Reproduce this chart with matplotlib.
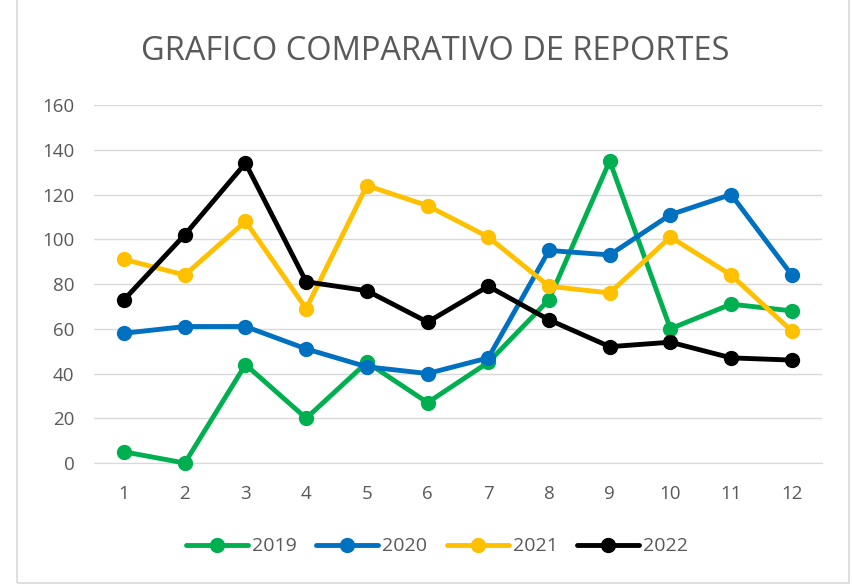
import matplotlib
matplotlib.use("Agg")
import matplotlib.pyplot as plt
from matplotlib.patches import Rectangle

meses = [1, 2, 3, 4, 5, 6, 7, 8, 9, 10, 11, 12]
r2019 = [5, 0, 44, 20, 45, 27, 45, 73, 135, 60, 71, 68]
r2020 = [58, 61, 61, 51, 43, 40, 47, 95, 93, 111, 120, 84]
r2021 = [91, 84, 108, 69, 124, 115, 101, 79, 76, 101, 84, 59]
r2022 = [73, 102, 134, 81, 77, 63, 79, 64, 52, 54, 47, 46]

series = [("2019", r2019, "#00b050"), ("2020", r2020, "#0070c0"),
          ("2021", r2021, "#ffc000"), ("2022", r2022, "#000000")]

plt.rcParams['font.family'] = ['Open Sans', 'DejaVu Sans']
gris = "#595959"

fig = plt.figure(figsize=(8.52, 5.85), dpi=100)
ax = fig.add_axes([0.110, 0.2085, 0.855, 0.612])

# borde del grafico
fig.patches.append(Rectangle((17 / 852, 0.003), 832 / 852, 1.1, transform=fig.transFigure,
                             fill=False, edgecolor="#d9d9d9", linewidth=1.2))

for nombre, valores, color in series:
    ax.plot(meses, valores, color=color, linewidth=3.5, marker="o", markersize=10,
            label=nombre, solid_capstyle="round", clip_on=False, zorder=3)

ax.set_xlim(0.5, 12.5)
ax.set_ylim(0, 160)
ax.set_yticks(range(0, 161, 20))
ax.set_xticks(meses)
ax.grid(axis="y", color="#d9d9d9", linewidth=1)
ax.set_axisbelow(True)
for s in ["top", "right", "left"]:
    ax.spines[s].set_visible(False)
ax.spines["bottom"].set_color("#d9d9d9")
ax.tick_params(axis="y", length=0, labelsize=13.5, labelcolor=gris, pad=14)
ax.tick_params(axis="x", length=0, labelsize=13.5, labelcolor=gris, pad=16)

fig.text(0.511, 0.912, "GRAFICO COMPARATIVO DE REPORTES", ha="center", va="center",
         fontsize=23.5, color=gris)

fig.legend(loc="center", bbox_to_anchor=(0.513, 0.066), ncol=4, frameon=False,
           fontsize=14, labelcolor=gris, handlelength=3.2, columnspacing=1.0,
           handletextpad=0.2)

fig.savefig("out.png", dpi=100)
